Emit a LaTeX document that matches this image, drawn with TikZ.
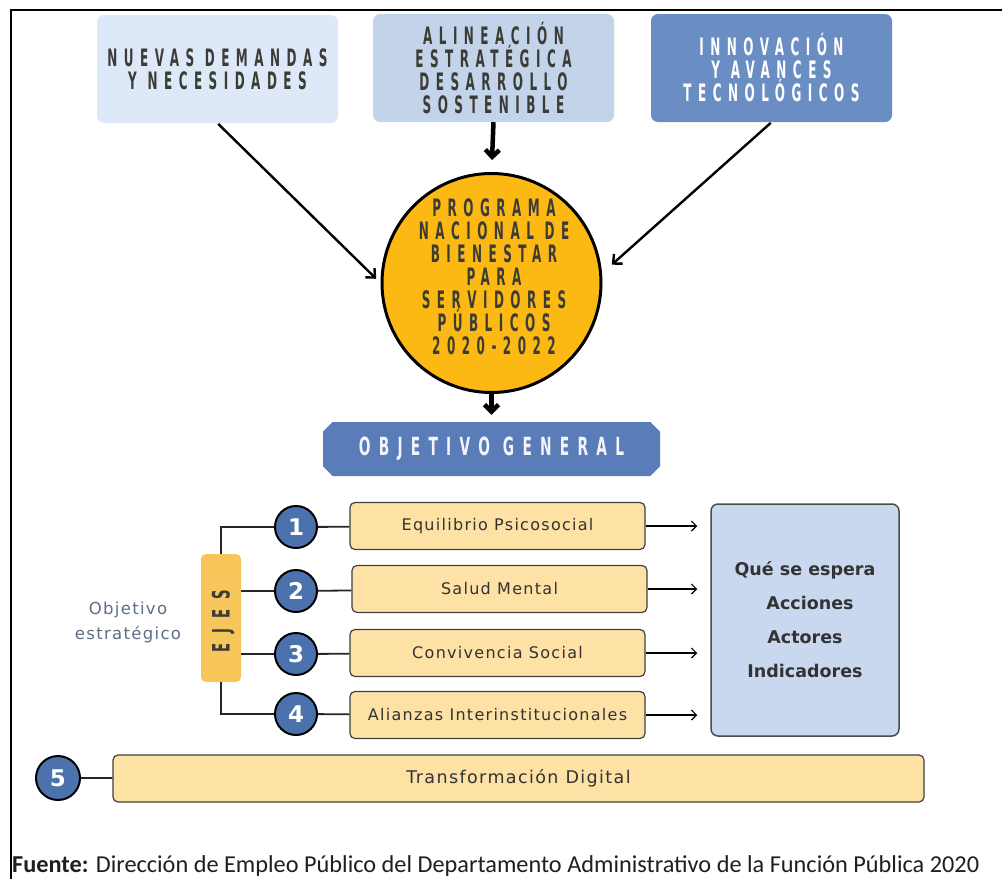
\documentclass[tikz,border=0pt]{standalone}
\usepackage{fontspec}
\setmainfont{DejaVu Sans}
\newfontfamily\capsfont[FakeStretch=0.5,LetterSpace=27]{DejaVu Sans Bold}
\newfontfamily\ogfont[FakeStretch=0.55,LetterSpace=33]{DejaVu Sans Bold}
\newfontfamily\ejesfont[FakeStretch=0.55,LetterSpace=42]{DejaVu Sans Bold}
\newfontfamily\boxfont[LetterSpace=8]{DejaVu Sans}
\newfontfamily\boxboldfont{DejaVu Sans Bold}
\newfontfamily\fuentefont{Carlito}
\usetikzlibrary{arrows.meta,shapes.misc}
\definecolor{cA}{HTML}{DDE9F8}
\definecolor{cB}{HTML}{C2D3EA}
\definecolor{cC}{HTML}{6A8DC3}
\definecolor{yel}{HTML}{FDB913}
\definecolor{ogblue}{HTML}{5A7DBA}
\definecolor{ejesc}{HTML}{F7C65A}
\definecolor{itemc}{HTML}{FDE1A5}
\definecolor{qec}{HTML}{C9D8EF}
\definecolor{numc}{HTML}{4C72AE}
\definecolor{captxt}{HTML}{3C3C36}
\definecolor{oetxt}{HTML}{5E6E84}
\tikzset{
  topbox/.style={rectangle, rounded corners=7pt, minimum width=241pt, minimum height=108pt,
    align=center, text=captxt, font=\capsfont\fontsize{24}{23}\selectfont},
  bigarr/.style={line width=2.4pt, -{Straight Barb[length=7pt,width=13pt]}},
  vertarr/.style={line width=4.5pt, -{Straight Barb[length=7pt,width=14pt]}},
  itembox/.style={rectangle, rounded corners=5pt, draw=black!75, line width=1.2pt, fill=itemc,
    minimum width=295pt, minimum height=47pt, font=\boxfont\fontsize{16}{18}\selectfont, text=black!80},
  numnode/.style={circle, draw=black, line width=2pt, fill=numc, minimum size=42pt, inner sep=0pt,
    text=white, font=\boxboldfont\fontsize{23}{24}\selectfont},
  smallarr/.style={line width=1.2pt, -{Straight Barb[length=5pt,width=10pt]}},
  conn/.style={line width=1.8pt, black!85},
}
\begin{document}
\begin{tikzpicture}[x=1pt,y=-1pt]
\useasboundingbox (0,0) rectangle (1002,879);
\fill[white] (0,0) rectangle (1002,879);
% frame
\draw[line width=2.5pt] (11,879) -- (11,10) -- (1002,10);

% top boxes
\node[topbox, fill=cA] (nd) at (217.5,69) {NUEVAS DEMANDAS\\Y NECESIDADES};
\node[topbox, fill=cB] (al) at (493.5,68) {ALINEACIÓN\\ESTRATÉGICA\\DESARROLLO\\SOSTENIBLE};
\node[topbox, fill=cC, text=white] (in) at (771.5,68) {INNOVACIÓN\\Y AVANCES\\TECNOLÓGICOS};

% central circle
\node[circle, draw=black, line width=3pt, fill=yel, minimum size=219pt, inner sep=0pt] (pn) at (491.5,283) {};
\node[align=center, text=captxt, font=\capsfont\fontsize{24}{23}\selectfont] (pntext) at (494,277)
  {PROGRAMA\\NACIONAL DE\\BIENESTAR\\PARA\\SERVIDORES\\PÚBLICOS\\2020-2022};

% arrows to circle
\draw[bigarr, shorten >=6pt, shorten <=1pt] (nd.south) -- (pn.west);
\draw[bigarr, shorten >=13pt, shorten <=1pt] (in.south) -- (pn.5);
\draw[vertarr, shorten >=12pt] (al.south) -- (pn.north);

% objetivo general
\node[chamfered rectangle, chamfered rectangle xsep=6pt, fill=ogblue, minimum width=337pt, minimum height=54pt,
  text=white!92!ogblue, font=\ogfont\fontsize{25}{26}\selectfont] (og) at (491.5,449) {OBJETIVO GENERAL};
\draw[vertarr, shorten >=7pt] (pn.south) -- (og.north);

% EJES
\node[rectangle, rounded corners=5pt, fill=ejesc, minimum width=40pt, minimum height=128pt] (ejes) at (221,618) {};
\node[rotate=90, text=captxt, font=\ejesfont\fontsize{24}{24}\selectfont] (ejestext) at (223,621) {EJES};

\node[align=center, text=oetxt, font=\boxfont\fontsize{16.5}{25}\selectfont] (oe) at (128,622) {Objetivo\\estratégico};

% numbered circles
\node[numnode] (n1) at (296,527) {1};
\node[numnode] (n2) at (296,591) {2};
\node[numnode] (n3) at (296,654) {3};
\node[numnode] (n4) at (296,714) {4};

% item boxes
\node[itembox] (b1) at (497.5,526) {Equilibrio Psicosocial};
\node[itembox] (b2) at (499.5,589) {Salud Mental};
\node[itembox] (b3) at (497.5,653) {Convivencia Social};
\node[itembox] (b4) at (497.5,715) {Alianzas Interinstitucionales};

% right box
\node[rectangle, rounded corners=7pt, draw=black!70, line width=1.5pt, fill=qec, minimum width=188pt, minimum height=232pt,
  align=center, text=black!80, font=\boxboldfont\fontsize{17.5}{34}\selectfont] (qe) at (805,620)
  {Qué se espera\\\hspace*{10pt}Acciones\\Actores\\Indicadores};

% connectors EJES -> circles
\draw[conn] (ejes.north) |- (n1);
\draw[conn] (ejes.east |- n2) -- (n2);
\draw[conn] (ejes.east |- n3) -- (n3);
\draw[conn] (ejes.south) |- (n4);

% circles -> boxes
\draw[conn] (n1) -- (b1);
\draw[conn] (n2) -- (b2);
\draw[conn] (n3) -- (b3);
\draw[conn] (n4) -- (b4);

% boxes -> right box
\draw[smallarr, shorten >=13pt] (b1.east) -- (qe.west |- b1.east);
\draw[smallarr, shorten >=13pt] (b2.east) -- (qe.west |- b2.east);
\draw[smallarr, shorten >=13pt] (b3.east) -- (qe.west |- b3.east);
\draw[smallarr, shorten >=13pt] (b4.east) -- (qe.west |- b4.east);

% 5
\node[numnode, minimum size=44pt] (n5) at (58,778) {5};
\node[itembox, minimum width=811pt, font=\boxfont\fontsize{17.5}{20}\selectfont] (b5) at (518.5,778.5) {Transformación Digital};
\draw[conn] (n5) -- (b5);

% source
\node[anchor=base west, inner sep=0pt, text=black!88, font=\fuentefont\fontsize{24.3}{30}\selectfont] (src) at (12,872)
  {\textbf{Fuente:} Dirección de Empleo Público del Departamento Administrativo de la Función Pública 2020};
\end{tikzpicture}
\end{document}
